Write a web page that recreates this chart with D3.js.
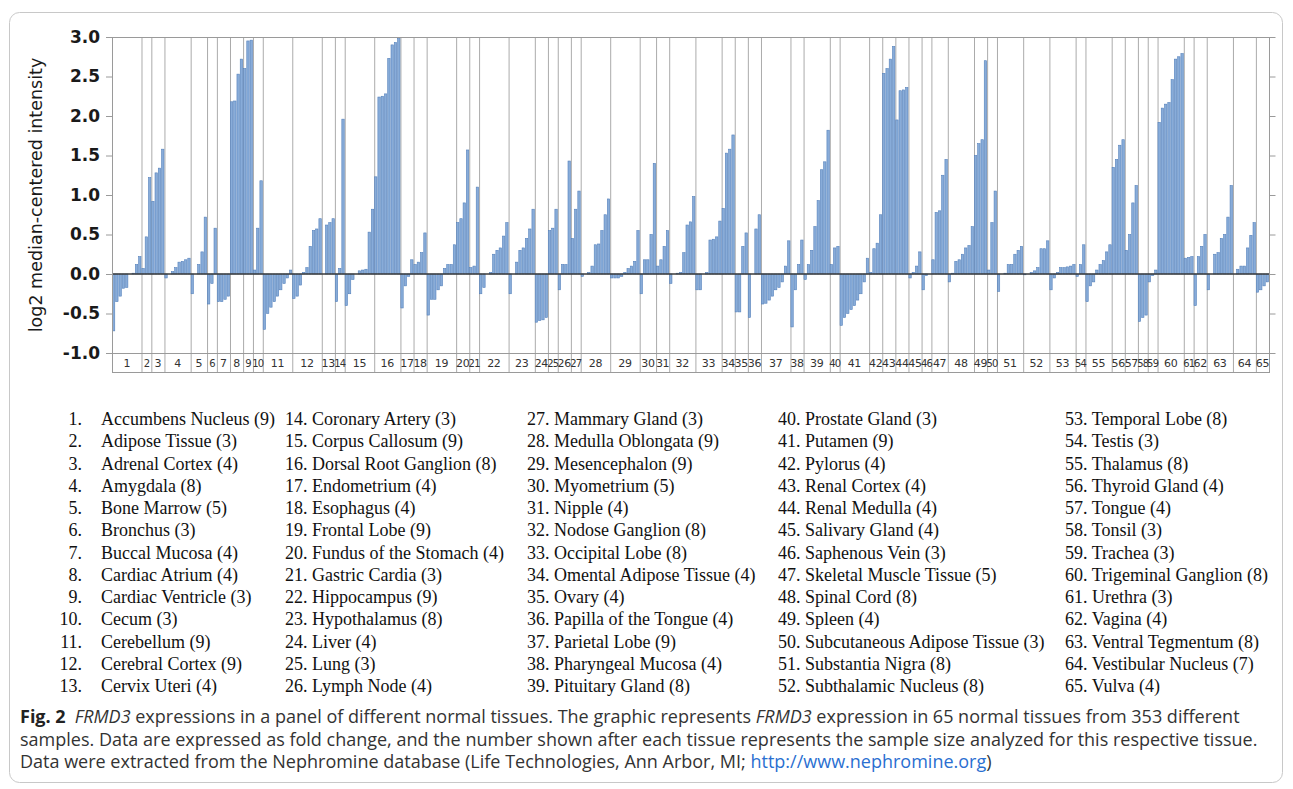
<!DOCTYPE html>
<html>
<head>
<meta charset="utf-8">
<script src="https://cdn.jsdelivr.net/npm/d3@7"></script>
<style>
  html, body { margin: 0; padding: 0; background: #fff; }
  svg { display: block; }
</style>
</head>
<body>
<svg id="chart" width="1293" height="789"></svg>
<script>
// ---------------------------------------------------------------------------
// DATA
// ---------------------------------------------------------------------------

const tissueNames = [
  'Accumbens Nucleus', 'Adipose Tissue', 'Adrenal Cortex', 'Amygdala', 'Bone Marrow',
  'Bronchus', 'Buccal Mucosa', 'Cardiac Atrium', 'Cardiac Ventricle', 'Cecum',
  'Cerebellum', 'Cerebral Cortex', 'Cervix Uteri', 'Coronary Artery', 'Corpus Callosum',
  'Dorsal Root Ganglion', 'Endometrium', 'Esophagus', 'Frontal Lobe', 'Fundus of the Stomach',
  'Gastric Cardia', 'Hippocampus', 'Hypothalamus', 'Liver', 'Lung',
  'Lymph Node', 'Mammary Gland', 'Medulla Oblongata', 'Mesencephalon', 'Myometrium',
  'Nipple', 'Nodose Ganglion', 'Occipital Lobe', 'Omental Adipose Tissue', 'Ovary',
  'Papilla of the Tongue', 'Parietal Lobe', 'Pharyngeal Mucosa', 'Pituitary Gland', 'Prostate Gland',
  'Putamen', 'Pylorus', 'Renal Cortex', 'Renal Medulla', 'Salivary Gland',
  'Saphenous Vein', 'Skeletal Muscle Tissue', 'Spinal Cord', 'Spleen', 'Subcutaneous Adipose Tissue',
  'Substantia Nigra', 'Subthalamic Nucleus', 'Temporal Lobe', 'Testis', 'Thalamus',
  'Thyroid Gland', 'Tongue', 'Tonsil', 'Trachea', 'Trigeminal Ganglion',
  'Urethra', 'Vagina', 'Ventral Tegmentum', 'Vestibular Nucleus', 'Vulva'
];

const sampleCounts = [
  9, 3, 4, 8, 5, 3, 4, 4, 3, 3,
  9, 9, 4, 3, 9, 8, 4, 4, 9, 4,
  3, 9, 8, 4, 3, 4, 3, 9, 9, 5,
  4, 8, 8, 4, 4, 4, 9, 4, 8, 3,
  9, 4, 4, 4, 4, 3, 5, 8, 4, 3,
  8, 8, 8, 3, 8, 4, 4, 3, 3, 8,
  3, 4, 8, 7, 4
];

// log2 median-centered intensity, one array per tissue (samples sorted)
const expression = [
  [-0.72, -0.35, -0.28, -0.18, -0.17, 0.0, 0.01, 0.12, 0.22],
  [0.07, 0.47, 1.22],
  [0.92, 1.28, 1.34, 1.58],
  [-0.05, 0.0, 0.03, 0.08, 0.15, 0.16, 0.18, 0.2],
  [-0.25, 0.0, 0.12, 0.28, 0.72],
  [-0.38, -0.12, 0.58],
  [-0.35, -0.35, -0.32, -0.28],
  [2.18, 2.19, 2.53, 2.72],
  [2.6, 2.95, 2.96],
  [0.05, 0.58, 1.18],
  [-0.7, -0.5, -0.42, -0.35, -0.28, -0.2, -0.12, -0.05, 0.05],
  [-0.31, -0.28, -0.14, 0.02, 0.08, 0.35, 0.55, 0.57, 0.7],
  [0.0, 0.62, 0.65, 0.7],
  [-0.35, 0.07, 1.96],
  [-0.4, -0.25, -0.07, 0.0, 0.04, 0.05, 0.06, 0.53, 0.82],
  [1.23, 2.24, 2.25, 2.28, 2.73, 2.9, 2.93, 2.98],
  [-0.43, -0.15, -0.03, 0.18],
  [0.12, 0.15, 0.27, 0.52],
  [-0.52, -0.32, -0.32, -0.2, -0.15, 0.07, 0.12, 0.12, 0.37],
  [0.65, 0.7, 0.9, 1.57],
  [0.08, 0.1, 1.1],
  [-0.25, -0.17, 0.0, 0.02, 0.25, 0.3, 0.33, 0.48, 0.65],
  [-0.25, 0.0, 0.15, 0.3, 0.33, 0.45, 0.57, 0.82],
  [-0.61, -0.59, -0.58, -0.55],
  [0.55, 0.58, 0.82],
  [-0.2, 0.12, 0.12, 1.43],
  [0.45, 0.82, 1.05],
  [-0.03, 0.0, 0.02, 0.1, 0.37, 0.38, 0.55, 0.75, 0.95],
  [-0.05, -0.05, -0.05, -0.03, 0.02, 0.07, 0.1, 0.16, 0.55],
  [-0.25, 0.18, 0.18, 0.5, 1.4],
  [0.1, 0.18, 0.35, 0.55],
  [-0.12, 0.0, 0.01, 0.02, 0.27, 0.62, 0.66, 0.98],
  [-0.2, -0.2, 0.0, 0.02, 0.43, 0.44, 0.47, 0.67],
  [0.83, 1.53, 1.58, 1.76],
  [-0.48, -0.48, 0.35, 0.52],
  [-0.55, 0.0, 0.57, 0.75],
  [-0.38, -0.37, -0.33, -0.28, -0.2, -0.17, -0.1, 0.1, 0.42],
  [-0.67, -0.2, 0.12, 0.43],
  [-0.07, 0.12, 0.3, 0.6, 0.93, 1.32, 1.42, 1.82],
  [0.12, 0.33, 0.35],
  [-0.65, -0.55, -0.5, -0.45, -0.4, -0.33, -0.25, -0.1, 0.2],
  [0.02, 0.32, 0.39, 0.75],
  [2.54, 2.6, 2.72, 2.88],
  [1.95, 2.32, 2.33, 2.36],
  [-0.05, 0.02, 0.1, 0.28],
  [-0.2, -0.02, 0.0],
  [0.18, 0.78, 0.8, 1.25, 1.45],
  [-0.1, 0.01, 0.16, 0.18, 0.25, 0.33, 0.36, 0.6],
  [1.5, 1.65, 1.7, 2.7],
  [0.05, 0.65, 1.05],
  [-0.22, 0.0, 0.01, 0.12, 0.12, 0.25, 0.3, 0.35],
  [-0.01, 0.0, 0.02, 0.04, 0.08, 0.32, 0.32, 0.42],
  [-0.2, -0.05, 0.02, 0.08, 0.08, 0.09, 0.1, 0.12],
  [-0.03, 0.12, 0.37],
  [-0.35, -0.15, -0.1, 0.05, 0.12, 0.17, 0.28, 0.37],
  [1.35, 1.45, 1.63, 1.7],
  [0.3, 0.5, 0.9, 1.12],
  [-0.6, -0.55, -0.52],
  [-0.1, -0.02, 0.05],
  [1.92, 2.1, 2.15, 2.17, 2.46, 2.72, 2.75, 2.79],
  [0.2, 0.21, 0.22],
  [-0.4, 0.22, 0.35, 0.5],
  [-0.2, 0.0, 0.25, 0.27, 0.45, 0.5, 0.72, 1.12],
  [0.0, 0.06, 0.1, 0.1, 0.33, 0.49, 0.65],
  [-0.23, -0.2, -0.15, -0.1]
];

const yTicks = [-1.0, -0.5, 0.0, 0.5, 1.0, 1.5, 2.0, 2.5, 3.0];

// ---------------------------------------------------------------------------
// LAYOUT
// ---------------------------------------------------------------------------

const PLOT = { left: 112, right: 1269, top: 37, bottom: 353, band: 372 };
const COLORS = {
  barFill: '#88acd9',
  barStroke: '#5581bb',
  grid: '#ababab',
  frame: '#9a9a9a',
  zero: '#3a3a3a',
  text: '#1a1a1a'
};

// flatten samples, remember group boundaries
const bars = [];
const groups = [];
expression.forEach((vals, gi) => {
  const start = bars.length;
  vals.forEach(v => bars.push({ group: gi, value: v }));
  groups.push({ index: gi + 1, start, end: bars.length });
});

const svg = d3.select('#chart');

const x = d3.scaleLinear()
  .domain([0, bars.length])
  .range([PLOT.left, PLOT.right]);

const y = d3.scaleLinear()
  .domain([-1, 3])
  .range([PLOT.bottom, PLOT.top]);

const slot = x(1) - x(0);

// figure frame
svg.append('rect')
  .attr('x', 9.5).attr('y', 12.5)
  .attr('width', 1273).attr('height', 770)
  .attr('rx', 10)
  .attr('fill', 'none')
  .attr('stroke', '#c8c8c8');

const g = svg.append('g');

// group separators (through plot and label band)
g.selectAll('.sep')
  .data(groups.slice(1))
  .enter().append('line')
  .attr('x1', d => x(d.start) + 0.5).attr('x2', d => x(d.start) + 0.5)
  .attr('y1', PLOT.top).attr('y2', PLOT.band)
  .attr('stroke', COLORS.grid)
  .attr('stroke-width', 1);

// bars
g.selectAll('.bar')
  .data(bars)
  .enter().append('rect')
  .attr('x', (d, i) => x(i) + 0.4)
  .attr('width', slot - 0.9)
  .attr('y', d => y(Math.max(0, d.value)))
  .attr('height', d => Math.abs(y(d.value) - y(0)))
  .attr('fill', COLORS.barFill)
  .attr('stroke', COLORS.barStroke)
  .attr('stroke-width', 0.6);

// zero line
g.append('line')
  .attr('x1', PLOT.left).attr('x2', PLOT.right)
  .attr('y1', y(0)).attr('y2', y(0))
  .attr('stroke', COLORS.zero)
  .attr('stroke-width', 1.3);

// frame of plot + label band
g.append('rect')
  .attr('x', PLOT.left + 0.5).attr('y', PLOT.top + 0.5)
  .attr('width', PLOT.right - PLOT.left)
  .attr('height', PLOT.band - PLOT.top)
  .attr('fill', 'none')
  .attr('stroke', COLORS.frame);

g.append('line')
  .attr('x1', PLOT.left).attr('x2', PLOT.right)
  .attr('y1', PLOT.bottom + 0.5).attr('y2', PLOT.bottom + 0.5)
  .attr('stroke', COLORS.frame);

// group numbers in the band
g.selectAll('.glabel')
  .data(groups)
  .enter().append('text')
  .attr('x', d => (x(d.start) + x(d.end)) / 2)
  .attr('y', 367)
  .attr('text-anchor', 'middle')
  .attr('font-family', 'DejaVu Sans, Verdana, sans-serif')
  .attr('font-size', d => (x(d.end) - x(d.start)) < 11 ? 10 : 11)
  .attr('letter-spacing', d => (x(d.end) - x(d.start)) < 11 ? -0.8 : -0.3)
  .attr('fill', '#333')
  .text(d => d.index);

// left axis
const yAxis = d3.axisLeft(y)
  .tickValues(yTicks)
  .tickSize(6)
  .tickPadding(6)
  .tickFormat(d => d.toFixed(1));

const axL = svg.append('g')
  .attr('transform', `translate(${PLOT.left},0)`)
  .call(yAxis);
axL.select('.domain').remove();
axL.selectAll('line').attr('stroke', COLORS.frame);
axL.selectAll('text')
  .attr('font-family', 'DejaVu Sans, Verdana, sans-serif')
  .attr('font-size', 17)
  .attr('font-weight', 'bold')
  .attr('fill', COLORS.text);

// right axis ticks only
const axR = svg.append('g')
  .attr('transform', `translate(${PLOT.right + 0.5},0)`)
  .call(d3.axisRight(y).tickValues(yTicks).tickSize(6).tickFormat(''));
axR.select('.domain').remove();
axR.selectAll('line').attr('stroke', COLORS.frame);

// y title
svg.append('text')
  .attr('transform', `translate(42,${(PLOT.top + PLOT.bottom) / 2}) rotate(-90)`)
  .attr('text-anchor', 'middle')
  .attr('font-family', 'DejaVu Sans, Verdana, sans-serif')
  .attr('font-size', 17.5)
  .attr('fill', COLORS.text)
  .text('log2 median-centered intensity');

// ---------------------------------------------------------------------------
// LEGEND (5 columns, 13 rows)
// ---------------------------------------------------------------------------

const colX = [101, 285, 527, 778, 1065];
const rowY0 = 425;
const rowGap = 22.25;

const legend = svg.append('g')
  .attr('font-family', 'Liberation Serif, Times New Roman, serif')
  .attr('font-size', 18)
  .attr('fill', '#111');

tissueNames.forEach((name, i) => {
  const col = Math.floor(i / 13);
  const row = i % 13;
  const yy = rowY0 + row * rowGap;
  if (col === 0) {
    legend.append('text')
      .attr('x', 82).attr('y', yy)
      .attr('text-anchor', 'end')
      .text(`${i + 1}.`);
    legend.append('text')
      .attr('x', colX[0]).attr('y', yy)
      .text(`${name} (${sampleCounts[i]})`);
  } else {
    legend.append('text')
      .attr('x', colX[col]).attr('y', yy)
      .text(`${i + 1}. ${name} (${sampleCounts[i]})`);
  }
});

// ---------------------------------------------------------------------------
// CAPTION
// ---------------------------------------------------------------------------

const cap = svg.append('g')
  .attr('font-family', 'Open Sans, Noto Sans, sans-serif')
  .attr('font-size', 18)
  .attr('fill', '#333');

const l1 = cap.append('text').attr('x', 20).attr('y', 723);
l1.append('tspan').attr('font-weight', 'bold').attr('fill', '#222').text('Fig. 2');
l1.append('tspan').attr('dx', 9).attr('font-style', 'italic').text('FRMD3');
l1.append('tspan').text(' expressions in a panel of different normal tissues. The graphic represents ');
l1.append('tspan').attr('font-style', 'italic').text('FRMD3');
l1.append('tspan').text(' expression in 65 normal tissues from 353 different');

cap.append('text').attr('x', 20).attr('y', 746)
  .text('samples. Data are expressed as fold change, and the number shown after each tissue represents the sample size analyzed for this respective tissue.');

const l3 = cap.append('text').attr('x', 20).attr('y', 768);
l3.append('tspan').text('Data were extracted from the Nephromine database (Life Technologies, Ann Arbor, MI; ');
l3.append('tspan').attr('fill', '#2a6fd1').text('http://www.nephromine.org');
l3.append('tspan').text(')');
</script>
</body>
</html>
